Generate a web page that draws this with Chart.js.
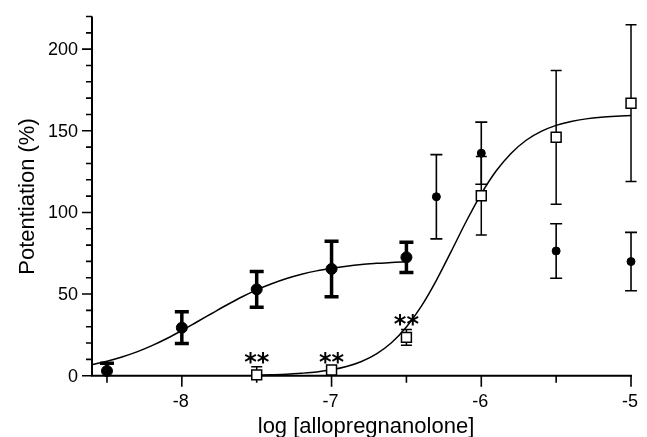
<!DOCTYPE html>
<html>
<head>
<meta charset="utf-8">
<script src="https://cdn.jsdelivr.net/npm/chart.js"></script>
<style>
    html, body { margin: 0; padding: 0; background: #fff; }
    #wrap { width: 647px; height: 437px; position: relative; }
</style>
</head>
<body>
<div id="wrap"><canvas id="doseChart"></canvas></div>
<script>
// --- Data ---
// low-dose points (large filled circles, bold error bars)
const lowX = [-8.5, -8, -7.5, -7, -6.5];
const lowY = [2.9, 29.4, 52.9, 65.4, 72.5];
const lowErr = [4.7, 9.7, 10.9, 17.0, 9.3];

// high-dose points (small filled circles)
const highX = [-6.3, -6, -5.5, -5];
const highY = [109.6, 136.3, 76.4, 69.9];
const highErr = [25.8, 19.0, 16.7, 17.9];

// open squares
const sqX = [-7.5, -7, -6.5, -6, -5.5, -5];
const sqY = [0.5, 3.5, 23.5, 110.2, 146.0, 166.9];
const sqErr = [5.0, 2.0, 4.8, 24.0, 41.0, 48.0];

// significance marks above the squares
const starX = [-7.5, -7, -6.5];
const starY = [5.5, 5.5, 28.3];
const starText = ['**', '**', '**'];

// fitted curves
const fit1X = [-8.6, -8.5, -8.4, -8.3, -8.2, -8.1, -8.0, -7.9, -7.8, -7.7, -7.6,
               -7.5, -7.4, -7.3, -7.2, -7.1, -7.0, -6.9, -6.8, -6.7, -6.6, -6.5];
const fit1Y = [6.8, 8.9, 11.5, 14.6, 18.4, 22.8, 27.7, 32.9, 38.1, 43.3, 48.2,
               52.6, 56.3, 59.5, 62.1, 64.2, 65.8, 67.1, 68.1, 68.8, 69.4, 69.8];
const fit2X = [-7.5, -7.4, -7.3, -7.2, -7.1, -7.0, -6.9, -6.8, -6.7, -6.6, -6.5, -6.4, -6.3,
               -6.2, -6.1, -6.0, -5.9, -5.8, -5.7, -5.6, -5.5, -5.4, -5.3, -5.2, -5.1, -5.0];
const fit2Y = [0.4, 0.6, 0.9, 1.5, 2.3, 3.6, 5.6, 8.7, 13.4, 20.2, 29.8, 42.6, 58.4,
               76.3, 94.6, 111.4, 125.5, 136.3, 144.2, 149.6, 153.3, 155.7, 157.3, 158.3, 158.9, 159.3];

// axes
const xMin = -8.6, xMax = -4.95, yMin = 0, yMax = 220;
const xTickValues = [-8, -7, -6, -5];
const xTickLabels = ['-8', '-7', '-6', '-5'];
const xMinorTicks = [-8.5, -7.5, -6.5, -5.5];
const yTickValues = [0, 50, 100, 150, 200];
const yTickLabels = ['0', '50', '100', '150', '200'];
const xTitle = 'log [allopregnanolone]';
const yTitle = 'Potentiation (%)';

function toPoints(xs, ys) {
    return xs.map((v, i) => ({ x: v, y: ys[i] }));
}

//////////////////////////////////////////////
// Axes drawn by hand (minor ticks, outward ticks)
//////////////////////////////////////////////
const axesPlugin = {
    id: 'handAxes',
    beforeDatasetsDraw(chart) {
        const ctx = chart.ctx;
        const xs = chart.scales.x, ys = chart.scales.y;
        const x0 = xs.getPixelForValue(xMin);
        const y0 = ys.getPixelForValue(0);
        ctx.save();
        ctx.strokeStyle = '#000';
        ctx.lineWidth = 2;
        ctx.beginPath();
        ctx.moveTo(x0, y0 + 1);
        ctx.lineTo(x0, ys.getPixelForValue(yMax));
        ctx.moveTo(x0 - 1, y0);
        ctx.lineTo(xs.getPixelForValue(-5) + 1, y0);
        ctx.stroke();

        ctx.lineWidth = 1.6;
        ctx.beginPath();
        for (let v = 10; v <= yMax; v += 10) {
            const py = ys.getPixelForValue(v);
            const len = (v % 50 === 0) ? 10 : 6;
            ctx.moveTo(x0 - len, py);
            ctx.lineTo(x0, py);
        }
        ctx.moveTo(x0 - 10, y0);
        ctx.lineTo(x0, y0);
        xTickValues.forEach(v => {
            const px = xs.getPixelForValue(v);
            ctx.moveTo(px, y0);
            ctx.lineTo(px, y0 + 11);
        });
        xMinorTicks.forEach(v => {
            const px = xs.getPixelForValue(v);
            ctx.moveTo(px, y0);
            ctx.lineTo(px, y0 + 7);
        });
        ctx.stroke();

        ctx.fillStyle = '#000';
        ctx.font = '18px "Liberation Sans", Arial, sans-serif';
        ctx.textAlign = 'right';
        ctx.textBaseline = 'middle';
        yTickValues.forEach((v, i) => {
            ctx.fillText(yTickLabels[i], x0 - 14, ys.getPixelForValue(v) + 1);
        });
        ctx.textAlign = 'center';
        xTickValues.forEach((v, i) => {
            ctx.fillText(xTickLabels[i], xs.getPixelForValue(v) - 1, y0 + 26);
        });

        ctx.font = '22px "Liberation Sans", Arial, sans-serif';
        ctx.textBaseline = 'alphabetic';
        ctx.fillText(xTitle, 366, 433);
        ctx.translate(33.5, 196.5);
        ctx.rotate(-Math.PI / 2);
        ctx.fillText(yTitle, 0, 0);
        ctx.restore();

        // error bars go under the markers
        const area = chart.chartArea;
        ctx.save();
        ctx.beginPath();
        ctx.rect(0, area.top - 2, chart.width, area.bottom - area.top + 2);
        ctx.clip();
        drawErrorBars(ctx, xs, ys, lowX, lowY, lowErr, 3.5, 14);
        drawErrorBars(ctx, xs, ys, highX, highY, highErr, 1.6, 12);
        drawErrorBars(ctx, xs, ys, sqX, sqY, sqErr, 1.5, 11);
        ctx.restore();
    },
    afterDatasetsDraw(chart) {
        const ctx = chart.ctx;
        const xs = chart.scales.x, ys = chart.scales.y;
        ctx.save();
        ctx.fillStyle = '#000';
        ctx.font = 'bold 24px "DejaVu Sans", sans-serif';
        ctx.textAlign = 'center';
        ctx.textBaseline = 'alphabetic';
        starX.forEach((v, i) => {
            ctx.fillText(starText[i], xs.getPixelForValue(v), ys.getPixelForValue(starY[i]) + 3);
        });
        ctx.restore();
    }
};

function drawErrorBars(ctx, xs, ys, xv, yv, ev, lw, cap) {
    ctx.strokeStyle = '#000';
    ctx.lineWidth = lw;
    ctx.lineCap = 'butt';
    ctx.beginPath();
    xv.forEach((v, i) => {
        const px = xs.getPixelForValue(v);
        const top = ys.getPixelForValue(yv[i] + ev[i]);
        const bot = ys.getPixelForValue(yv[i] - ev[i]);
        ctx.moveTo(px, top);
        ctx.lineTo(px, bot);
        ctx.moveTo(px - cap / 2, top);
        ctx.lineTo(px + cap / 2, top);
        ctx.moveTo(px - cap / 2, bot);
        ctx.lineTo(px + cap / 2, bot);
    });
    ctx.stroke();
}

//////////////////////////////////////////////
// Chart
//////////////////////////////////////////////
const ctx = document.getElementById('doseChart').getContext('2d');
const doseChart = new Chart(ctx, {
    type: 'scatter',
    data: {
        datasets: [
            {
                label: 'low',
                data: toPoints(lowX, lowY),
                pointStyle: 'circle',
                pointRadius: 5.5,
                backgroundColor: '#000',
                borderColor: '#000',
                borderWidth: 1,
                clip: false,
                order: 0
            },
            {
                label: 'high',
                data: toPoints(highX, highY),
                pointStyle: 'circle',
                pointRadius: 4,
                backgroundColor: '#000',
                borderColor: '#000',
                borderWidth: 1,
                clip: false,
                order: 0
            },
            {
                label: 'squares',
                data: toPoints(sqX, sqY),
                pointStyle: 'rect',
                pointRadius: 7,
                backgroundColor: '#fff',
                borderColor: '#000',
                borderWidth: 1.5,
                clip: false,
                order: 0
            },
            {
                label: 'fit1',
                data: toPoints(fit1X, fit1Y),
                showLine: true,
                cubicInterpolationMode: 'monotone',
                pointRadius: 0,
                borderColor: '#000',
                borderWidth: 1.5,
                clip: false,
                order: 1
            },
            {
                label: 'fit2',
                data: toPoints(fit2X, fit2Y),
                showLine: true,
                cubicInterpolationMode: 'monotone',
                pointRadius: 0,
                borderColor: '#000',
                borderWidth: 1.5,
                clip: false,
                order: 1
            }
        ]
    },
    options: {
        responsive: true,
        maintainAspectRatio: false,
        animation: false,
        layout: {
            padding: { left: 92, top: 16.5, right: 7.8, bottom: 61.3 }
        },
        scales: {
            x: { type: 'linear', min: xMin, max: xMax, display: false },
            y: { type: 'linear', min: yMin, max: yMax, display: false }
        },
        plugins: {
            legend: { display: false },
            tooltip: { enabled: false }
        }
    },
    plugins: [axesPlugin]
});
</script>
</body>
</html>
